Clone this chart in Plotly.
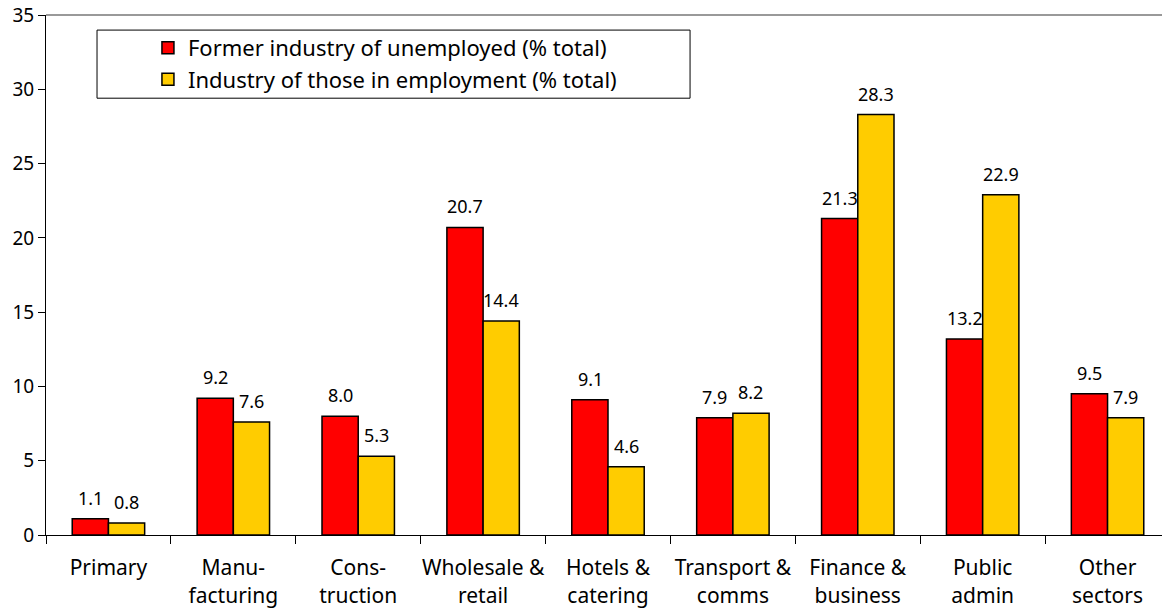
import plotly.graph_objects as go

# Sector shares (% of total)
categories = ["Primary", "Manu-<br>facturing", "Cons-<br>truction", "Wholesale &<br>retail",
              "Hotels &<br>catering", "Transport &<br>comms", "Finance &<br>business",
              "Public<br>admin", "Other<br>sectors"]
unemployed = [1.1, 9.2, 8.0, 20.7, 9.1, 7.9, 21.3, 13.2, 9.5]
employed = [0.8, 7.6, 5.3, 14.4, 4.6, 8.2, 28.3, 22.9, 7.9]

FONT = "Noto Sans"

fig = go.Figure()
fig.add_trace(go.Bar(
    x=categories, y=unemployed, name="Former industry of unemployed (% total)",
    marker=dict(color="#ff0000", line=dict(color="black", width=1.5)),
))
fig.add_trace(go.Bar(
    x=categories, y=employed, name="Industry of those in employment (% total)",
    marker=dict(color="#ffcc00", line=dict(color="black", width=1.5)),
))

# value labels above each bar, nudged sideways to sit over their bar
for series, shift in ((unemployed, -18), (employed, 18)):
    for cat, v in zip(categories, series):
        fig.add_annotation(x=cat, y=v, text=f"{v:.1f}", showarrow=False,
                           xshift=shift, yshift=7, yanchor="bottom",
                           font=dict(size=18, color="black", family=FONT))

# page body has an 8px margin, so the figure is sized to fit the window
fig.update_layout(
    width=1162, height=602,
    margin=dict(l=38, r=0, t=7, b=75),
    plot_bgcolor="white", paper_bgcolor="white",
    font=dict(family=FONT, size=20, color="black"),
    barmode="group", bargap=0.42, bargroupgap=0,
    legend=dict(x=0.0907, y=0.977, xanchor="left", yanchor="top",
                borderwidth=0, bgcolor="rgba(0,0,0,0)",
                font=dict(size=22), tracegroupgap=0, itemwidth=30),
    xaxis=dict(showline=True, linecolor="black", linewidth=1,
               ticks="outside", tickson="boundaries", ticklen=8,
               tickcolor="black", showgrid=False, automargin=False,
               tickangle=0, ticklabelstandoff=14, tickfont=dict(size=21)),
    yaxis=dict(range=[0, 35], dtick=5, showline=True, linecolor="black",
               linewidth=1, ticks="outside", ticklen=7, tickcolor="black",
               showgrid=False, zeroline=False, automargin=False,
               ticklabeloverflow="allow", tickfont=dict(size=19)),
)
# legend frame drawn wider than plotly's own box
fig.add_shape(type="rect", xref="paper", yref="paper",
              x0=0.0454, x1=0.573, y0=0.840, y1=0.971,
              line=dict(color="black", width=1), fillcolor="white", layer="below")
fig.add_shape(type="line", xref="paper", yref="paper", x0=0, x1=1, y0=1, y1=1,
              line=dict(color="#999999", width=2))

fig.write_html("out.html")
